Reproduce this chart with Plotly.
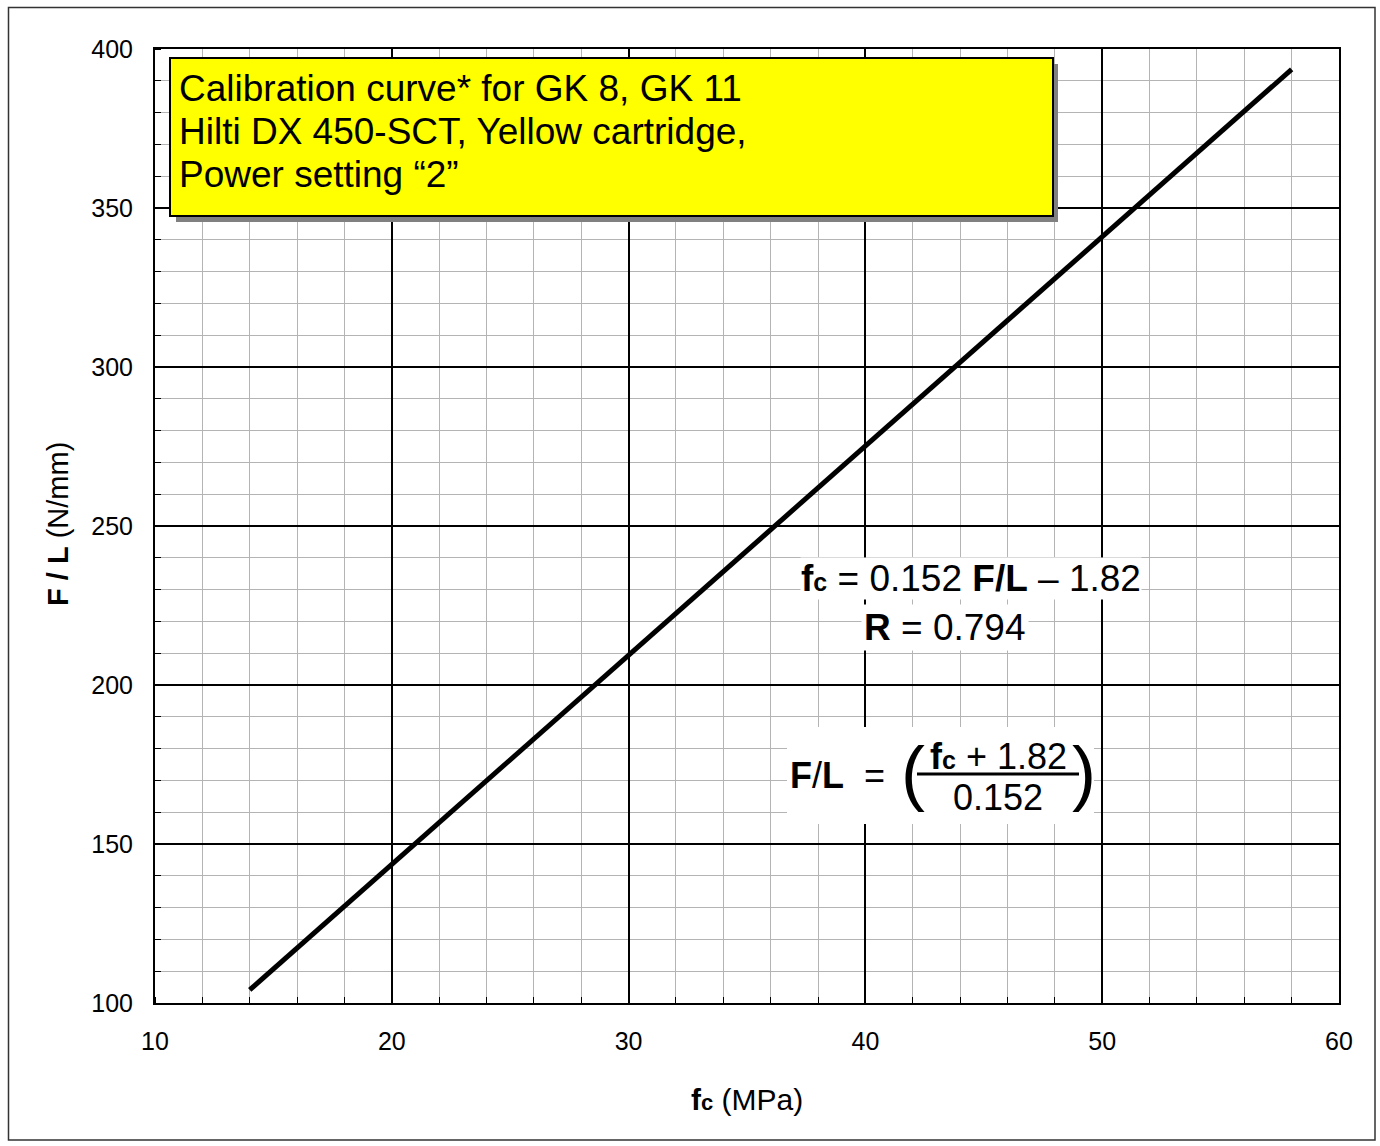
import plotly.graph_objects as go

# Data
fc_values = [14, 58]
fl_values = [104.1, 393.6]

x_ticks = [10, 20, 30, 40, 50, 60]
y_ticks = [100, 150, 200, 250, 300, 350, 400]

box_lines = [
    "Calibration curve* for GK 8, GK 11",
    "Hilti DX 450-SCT, Yellow cartridge,",
    "Power setting \u201c2\u201d",
]

FONT = "Liberation Sans, Arial, sans-serif"

fig = go.Figure()
fig.add_trace(go.Scatter(
    x=fc_values, y=fl_values, mode="lines",
    line=dict(color="black", width=5), showlegend=False, hoverinfo="skip",
))

# Pixel helpers (plot area: x 155..1339, y 49..1003)
L, R, T, B = 155, 1339, 49, 1003
def pxp(px):
    return (px - L) / (R - L)
def pyp(py):
    return (B - py) / (B - T)

shapes = []
# outer frame
shapes.append(dict(type="rect", xref="paper", yref="paper",
                   x0=pxp(8.5), x1=pxp(1375), y0=pyp(1140), y1=pyp(7.5),
                   line=dict(color="#333333", width=1.5), layer="below"))
# yellow box shadow
shapes.append(dict(type="rect", xref="paper", yref="paper",
                   x0=pxp(176), x1=pxp(1058), y0=pyp(222), y1=pyp(64),
                   fillcolor="#808080", line=dict(width=0)))
# yellow box
shapes.append(dict(type="rect", xref="paper", yref="paper",
                   x0=pxp(170), x1=pxp(1053), y0=pyp(216), y1=pyp(58),
                   fillcolor="#ffff00", line=dict(color="black", width=2)))
# white background for fraction
shapes.append(dict(type="rect", xref="paper", yref="paper",
                   x0=pxp(787), x1=pxp(1094), y0=pyp(824), y1=pyp(727),
                   fillcolor="white", line=dict(width=0)))
# fraction bar
shapes.append(dict(type="line", xref="paper", yref="paper",
                   x0=pxp(917), x1=pxp(1079), y0=pyp(774), y1=pyp(774),
                   line=dict(color="black", width=3)))

annotations = []
for i, t in enumerate(box_lines):
    annotations.append(dict(
        xref="paper", yref="paper", x=pxp(177), y=pyp(88 + 43 * i),
        text=t, showarrow=False, xanchor="left", yanchor="middle",
        font=dict(family=FONT, size=37, color="black"),
    ))

fc_html = "<b>f<span style='font-size:25px'>c</span></b>"

annotations.append(dict(
    xref="paper", yref="paper", x=pxp(971), y=pyp(578),
    text=fc_html + " = 0.152 <b>F/L</b> \u2013 1.82", showarrow=False,
    xanchor="center", yanchor="middle", bgcolor="white", borderpad=0,
    font=dict(family=FONT, size=37, color="black"),
))
annotations.append(dict(
    xref="paper", yref="paper", x=pxp(945), y=pyp(627),
    text="<b>R</b> = 0.794", showarrow=False,
    xanchor="center", yanchor="middle", bgcolor="white", borderpad=2,
    font=dict(family=FONT, size=37, color="black"),
))
annotations.append(dict(
    xref="paper", yref="paper", x=pxp(788), y=pyp(775),
    text="<b>F</b>/<b>L</b>  =", showarrow=False,
    xanchor="left", yanchor="middle",
    font=dict(family=FONT, size=36, color="black"),
))
annotations.append(dict(
    xref="paper", yref="paper", x=pxp(998), y=pyp(756),
    text=fc_html + " + 1.82", showarrow=False,
    xanchor="center", yanchor="middle",
    font=dict(family=FONT, size=36, color="black"),
))
annotations.append(dict(
    xref="paper", yref="paper", x=pxp(998), y=pyp(797),
    text="0.152", showarrow=False,
    xanchor="center", yanchor="middle",
    font=dict(family=FONT, size=36, color="black"),
))
annotations.append(dict(
    xref="paper", yref="paper", x=pxp(913), y=pyp(772),
    text="(", showarrow=False, xanchor="center", yanchor="middle",
    font=dict(family=FONT, size=72, color="black"),
))
annotations.append(dict(
    xref="paper", yref="paper", x=pxp(1084), y=pyp(772),
    text=")", showarrow=False, xanchor="center", yanchor="middle",
    font=dict(family=FONT, size=72, color="black"),
))

# axis titles
annotations.append(dict(
    xref="paper", yref="paper", x=pxp(58), y=pyp(524),
    text="<b>F / L</b> (N/mm)", showarrow=False, textangle=-90,
    xanchor="center", yanchor="middle",
    font=dict(family=FONT, size=29, color="black"),
))
annotations.append(dict(
    xref="paper", yref="paper", x=pxp(747), y=pyp(1099),
    text="<b>f<span style='font-size:22px'>c</span></b> (MPa)", showarrow=False,
    xanchor="center", yanchor="middle",
    font=dict(family=FONT, size=30, color="black"),
))

axis_common = dict(
    showline=True, linecolor="black", linewidth=2, mirror=True,
    showgrid=True, gridcolor="black", gridwidth=1.5,
    ticks="", zeroline=False,
    tickfont=dict(family=FONT, size=25, color="black"),
)

fig.update_xaxes(
    range=[10, 60], tickvals=x_ticks, ticktext=[str(v) for v in x_ticks],
    ticklabelstandoff=15,
    minor=dict(dtick=2, tick0=10, showgrid=True, gridcolor="#b4b4b4", gridwidth=1.2,
               ticks="inside", ticklen=6, tickcolor="black", tickwidth=1.2),
    **axis_common,
)
fig.update_yaxes(
    range=[100, 400], tickvals=y_ticks, ticktext=[str(v) for v in y_ticks],
    ticklabelstandoff=15,
    minor=dict(dtick=10, tick0=100, showgrid=True, gridcolor="#b4b4b4", gridwidth=1.2,
               ticks="inside", ticklen=6, tickcolor="black", tickwidth=1.2),
    **axis_common,
)

fig.update_layout(
    width=1380, height=1146,
    margin=dict(l=L, r=1380 - R, t=T, b=1146 - B),
    paper_bgcolor="white", plot_bgcolor="white",
    shapes=shapes, annotations=annotations,
    font=dict(family=FONT),
)

fig.write_html("out.html")
